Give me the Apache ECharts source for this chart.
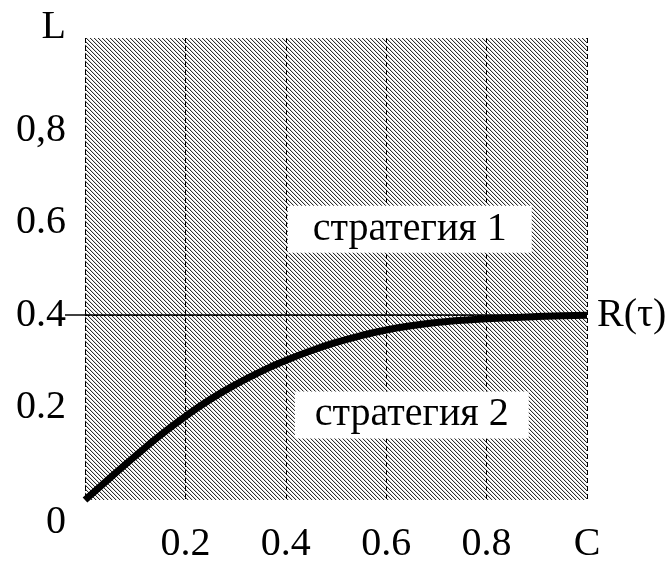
<!DOCTYPE html>
<html><head><meta charset="utf-8">
<script src="https://cdn.jsdelivr.net/npm/echarts@6/dist/echarts.min.js"></script>
<style>html,body{margin:0;padding:0;background:#fff}#c{width:670px;height:564px}</style>
</head><body><div id="c"></div>
<script>
// ---- data ----
const xValues = [0, 0.05, 0.1, 0.15, 0.2, 0.25, 0.3, 0.35, 0.4, 0.45, 0.5, 0.55, 0.6, 0.65, 0.7, 0.75, 0.8, 0.9, 1.0];
const rValues = [0, 0.048, 0.095, 0.14, 0.181, 0.218, 0.25, 0.278, 0.302, 0.323, 0.341, 0.356, 0.368, 0.377, 0.384, 0.389, 0.3925, 0.397, 0.4];
const xTickValues = [0.2, 0.4, 0.6, 0.8, 1.0];
const xTickLabels = ['0.2', '0.4', '0.6', '0.8', 'C'];
const yTickValues = [0, 0.2, 0.4, 0.6, 0.8];
const yTickLabels = ['0', '0.2', '0.4', '0.6', '0,8'];
const yAxisName = 'L';
const thresholdValue = 0.4;
const thresholdLabel = 'R(τ)';
const regionTexts = ['стратегия 1', 'стратегия 2'];
const regionX = [0.647, 0.651];
const regionY = [0.586, 0.184];

// ---- hatch pattern ----
const pc = document.createElement('canvas');
pc.width = 4; pc.height = 4;
const pctx = pc.getContext('2d');
const img = pctx.createImageData(4, 4);
for (let y = 0; y < 4; y++) for (let x = 0; x < 4; x++) {
  const k = ((x - y) % 4 + 4) % 4;
  const v = k === 0 ? 45 : (k === 1 ? 215 : 255);
  const i = (y * 4 + x) * 4;
  img.data[i] = v; img.data[i + 1] = v; img.data[i + 2] = v; img.data[i + 3] = 255;
}
pctx.putImageData(img, 0, 0);
const hatch = { image: pc, repeat: 'repeat' };

const FONT = 'Liberation Serif';
const chart = echarts.init(document.getElementById('c'), null, { renderer: 'canvas' });
const gridLine = { color: '#000', width: 1, type: [5, 3] };

chart.setOption({
  animation: false,
  backgroundColor: '#fff',
  grid: { left: 85, right: 83, top: 38, bottom: 59, show: true, backgroundColor: hatch, borderWidth: 0 },
  xAxis: {
    type: 'value', min: 0, max: 1, interval: 0.2,
    axisLine: { show: false }, axisTick: { show: false },
    splitLine: { show: true, lineStyle: gridLine },
    axisLabel: {
      margin: 24, fontSize: 40, fontFamily: FONT, color: '#000', showMaxLabel: true,
      formatter: v => { const i = xTickValues.findIndex(t => Math.abs(t - v) < 1e-6); return i >= 0 ? xTickLabels[i] : ''; }
    }
  },
  yAxis: {
    type: 'value', min: 0, max: 1, interval: 0.2,
    name: yAxisName, nameLocation: 'end', nameGap: 11,
    nameTextStyle: { fontSize: 40, fontFamily: FONT, color: '#000', align: 'right', verticalAlign: 'middle', padding: [0, 19, 0, 0] },
    axisLine: { show: false },
    axisTick: { show: true, length: 20, customValues: [thresholdValue], lineStyle: { color: '#000', width: 1.5 } },
    splitLine: { show: true, lineStyle: gridLine },
    axisLabel: {
      margin: 19, fontSize: 40, fontFamily: FONT, color: '#000',
      formatter: v => {
        const i = yTickValues.findIndex(t => Math.abs(t - v) < 1e-6);
        if (i < 0) return '';
        return i === 0 ? '{z|' + yTickLabels[i] + '}' : yTickLabels[i];
      },
      rich: { z: { fontSize: 40, fontFamily: FONT, color: '#000', padding: [44, 0, 0, 12] } }
    }
  },
  series: [{
    type: 'line',
    data: xValues.map((x, i) => [x, rValues[i]]),
    smooth: 0.5,
    symbol: 'none',
    lineStyle: { color: '#000', width: 7 },
    z: 5,
    markLine: {
      silent: true, symbol: ['none', 'none'],
      lineStyle: { color: '#000', width: 1.5, type: 'solid' },
      label: { show: true, position: 'end', formatter: thresholdLabel, distance: 10, fontSize: 40, fontFamily: FONT, color: '#000' },
      data: [{ yAxis: thresholdValue }]
    },
    markPoint: {
      silent: true, symbol: 'rect', symbolSize: 0,
      data: regionTexts.map((t, i) => ({
        coord: [regionX[i], regionY[i]],
        label: {
          show: true, position: 'inside', formatter: t,
          fontSize: 40, fontFamily: FONT, color: '#000',
          backgroundColor: '#fff', padding: i === 0 ? [4, 25, 3, 25] : [4, 20, 3, 20]
        }
      }))
    }
  }]
});
</script></body></html>
